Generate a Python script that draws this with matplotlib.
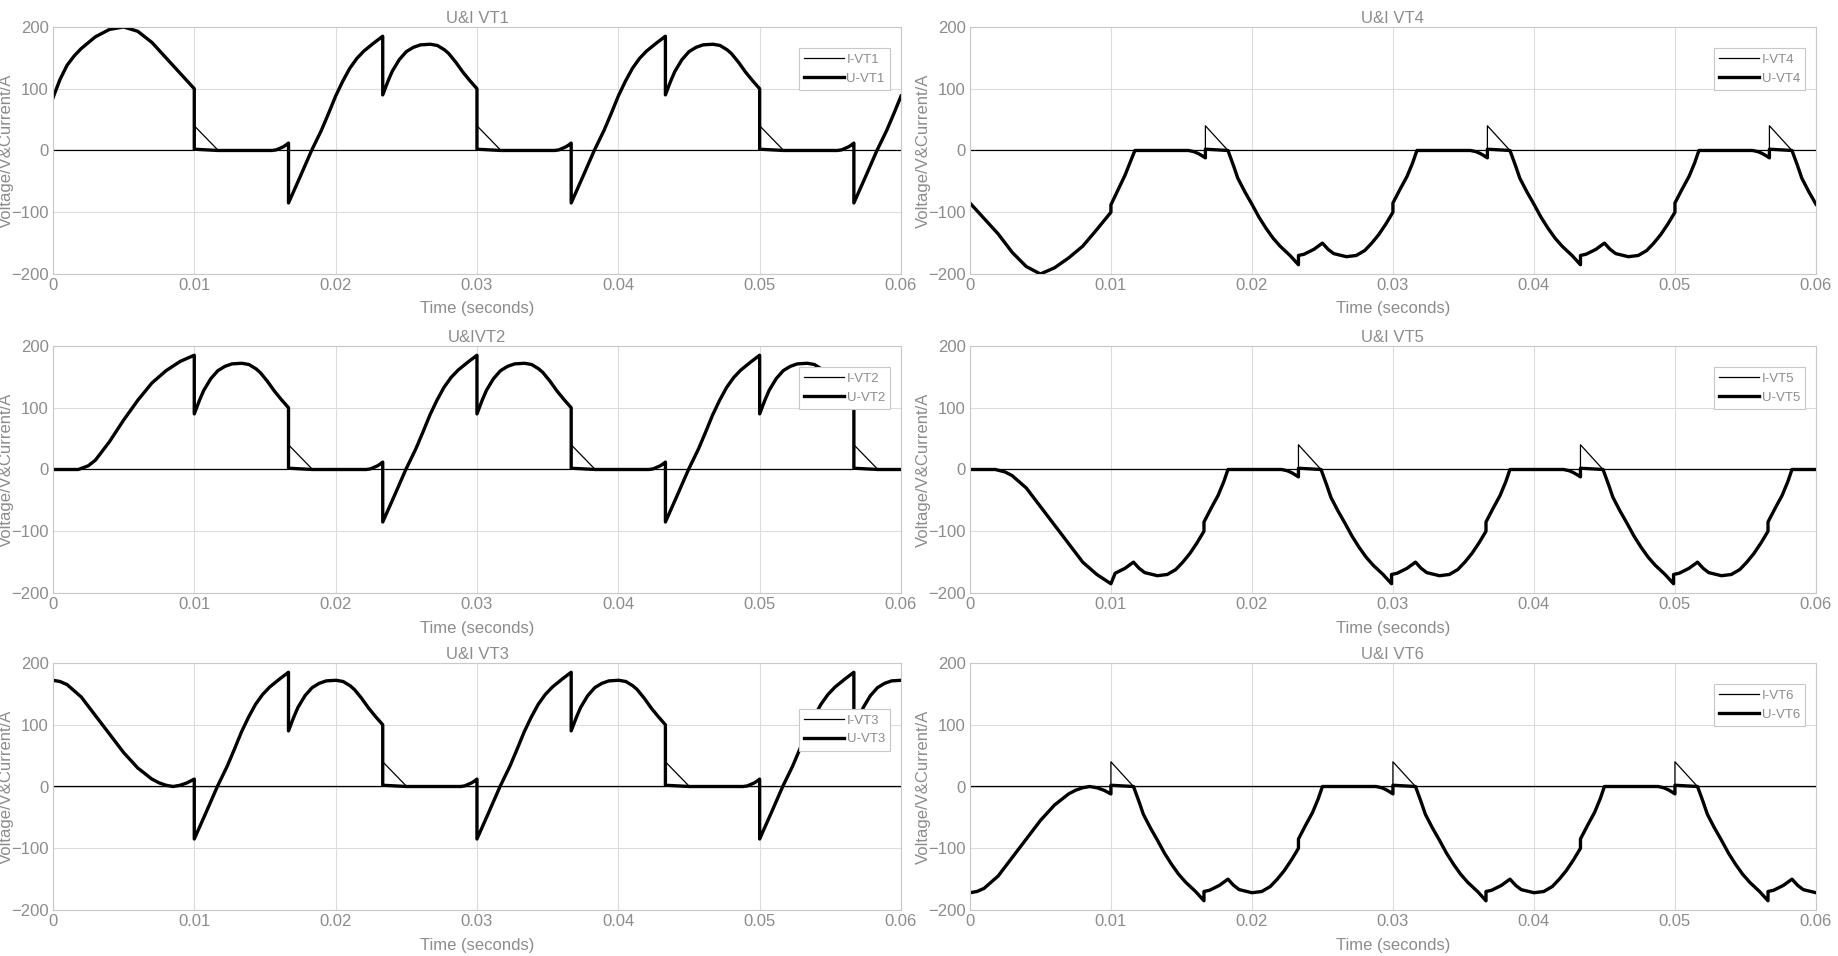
import numpy as np
import matplotlib
matplotlib.use("Agg")
import matplotlib.pyplot as plt

plt.rcParams['font.family'] = ['Liberation Sans Narrow', 'Liberation Sans', 'DejaVu Sans']

# ---- data ----
T_END = 0.06
PERIOD = 0.02

# type A voltage (VT1/VT2/VT3) over one period, tau relative to period start
A_tau = [0, 0.0017, 0.0055, 0.0058, 0.006, 0.0063, 0.0065, 0.006667, 0.006667, 0.0075, 0.0083,
         0.009, 0.0095, 0.010, 0.0105, 0.011, 0.0115, 0.012, 0.0127, 0.013333, 0.013333, 0.0137,
         0.014, 0.0145, 0.015, 0.0155, 0.016, 0.0167, 0.0172, 0.0177, 0.018, 0.0185, 0.019, 0.0195, 0.020]
A_u = [2, 0, 0, 1, 3, 6, 9, 12, -85, -42, 0,
       33, 60, 88, 112, 133, 149, 161, 174, 185, 90, 112,
       128, 147, 160, 167, 171, 172, 170, 163, 157, 143, 127, 113, 100]
A_i_tau = [0, 0.0017, 0.020]
A_i = [40, 0, 0]

# type B voltage (VT4/VT5/VT6) over one period
B_tau = [0, 0.0038, 0.0042, 0.0045, 0.0048, 0.005, 0.005, 0.0066, 0.007, 0.0073, 0.0078, 0.0083,
         0.0088, 0.0093, 0.0098, 0.0103, 0.011, 0.0116, 0.0116, 0.012, 0.0127, 0.0133, 0.0137,
         0.0141, 0.015, 0.0157, 0.0163, 0.0168, 0.0173, 0.0178, 0.0183, 0.0183, 0.0188, 0.0193, 0.0197, 0.020]
B_u = [0, 0, -2, -5, -9, -12, 2, 0, -25, -45, -67, -87,
       -108, -126, -142, -155, -170, -185, -170, -168, -160, -150, -160,
       -167, -172, -170, -162, -150, -136, -119, -100, -85, -63, -42, -20, 0]
B_i_tau = [0, 0.005, 0.005, 0.0066, 0.020]
B_i = [0, 0, 40, 0, 0]

# initial (start-up) segments per thyristor
VT1_init_t = [0, 0.0005, 0.001, 0.0015, 0.002, 0.003, 0.004, 0.005, 0.006, 0.007, 0.008, 0.009, 0.01]
VT1_init_u = [85, 115, 138, 153, 165, 184, 196, 200, 193, 175, 150, 125, 100]
VT2_init_t = [0, 0.0018, 0.0025, 0.003, 0.004, 0.005, 0.006, 0.007, 0.008, 0.009, 0.01]
VT2_init_u = [0, 0, 6, 15, 45, 80, 112, 140, 160, 175, 185]
VT3_init_t = [0, 0.0005, 0.001, 0.002, 0.003, 0.004, 0.005, 0.006, 0.007, 0.0075, 0.008, 0.0085, 0.009, 0.0095, 0.01]
VT3_init_u = [172, 170, 165, 145, 115, 85, 55, 30, 12, 6, 2, 0, 2, 6, 12]
VT4_init_t = [0, 0.001, 0.002, 0.003, 0.004, 0.005, 0.006, 0.007, 0.008, 0.009, 0.01, 0.01, 0.011, 0.0117]
VT4_init_u = [-85, -110, -135, -165, -188, -200, -190, -174, -155, -128, -100, -88, -40, 0]
VT5_init_t = [0, 0.0018, 0.0025, 0.003, 0.004, 0.005, 0.006, 0.007, 0.008, 0.009, 0.01]
VT5_init_u = [0, 0, -4, -10, -30, -60, -90, -120, -150, -170, -185]
VT6_init_t = [0, 0.0005, 0.001, 0.002, 0.003, 0.004, 0.005, 0.006, 0.007, 0.0075, 0.008, 0.0085, 0.009, 0.0095, 0.01]
VT6_init_u = [-172, -170, -165, -145, -115, -85, -55, -30, -12, -6, -2, 0, -2, -6, -12]

names = ['VT1', 'VT4', 'VT2', 'VT5', 'VT3', 'VT6']
titles = ['U&I VT1', 'U&I VT4', 'U&IVT2', 'U&I VT5', 'U&I VT3', 'U&I VT6']
kinds = ['A', 'B', 'A', 'B', 'A', 'B']
starts = [0.01, 0.0117, 0.016667, 0.0183, 0.003333, 0.005]
inits = [(VT1_init_t, VT1_init_u), (VT4_init_t, VT4_init_u), (VT2_init_t, VT2_init_u),
         (VT5_init_t, VT5_init_u), (VT3_init_t, VT3_init_u), (VT6_init_t, VT6_init_u)]


def tile(tau, vals, start, t_from):
    ts, vs = [], []
    k0 = int(np.floor((t_from - start) / PERIOD)) - 1
    for k in range(k0, k0 + 6):
        base = start + k * PERIOD
        for a, v in zip(tau, vals):
            ts.append(base + a)
            vs.append(v)
    ts = np.array(ts); vs = np.array(vs)
    m = (ts >= t_from - 1e-5) & (ts <= T_END)
    out_t = list(np.maximum(ts[m], t_from)); out_v = list(vs[m])
    if out_t[-1] < T_END:
        out_t.append(T_END); out_v.append(np.interp(T_END, ts, vs))
    return out_t, out_v


fig = plt.figure(figsize=(18.38, 9.56), dpi=100)
lefts = [0.0288, 0.5277]
bottoms = [0.7134, 0.3797, 0.0481]
W = [0.4614, 0.4603]
H = 0.2584
grey = '#8c8c8c'

for idx, name in enumerate(names):
    r, c = idx // 2, idx % 2
    ax = fig.add_axes([lefts[c], bottoms[r], W[c], H])
    it, iu = inits[idx]
    if kinds[idx] == 'A':
        tau, uu, itau, ii = A_tau, A_u, A_i_tau, A_i
    else:
        tau, uu, itau, ii = B_tau, B_u, B_i_tau, B_i
    pt, pu = tile(tau, uu, starts[idx], it[-1])
    ut = list(it) + pt
    uv = list(iu) + pu
    ct, cv = tile(itau, ii, starts[idx], it[-1])
    ct = [0, it[-1]] + ct
    cv = [0, 0] + cv
    ax.plot(ct, cv, color='black', lw=0.9, label='I-' + name)
    ax.plot(ut, uv, color='black', lw=2.4, label='U-' + name, solid_joinstyle='round')
    ax.set_xlim(0, 0.06)
    ax.set_ylim(-200, 200)
    ax.set_xticks([0, 0.01, 0.02, 0.03, 0.04, 0.05, 0.06])
    ax.set_xticklabels(['0', '0.01', '0.02', '0.03', '0.04', '0.05', '0.06'])
    ax.set_yticks([-200, -100, 0, 100, 200])
    ax.grid(True, color='#dcdcdc', lw=0.8)
    ax.set_axisbelow(True)
    for s in ax.spines.values():
        s.set_color('#c8c8c8')
    ax.tick_params(colors=grey, labelsize=12, length=0, pad=3)
    ax.set_title(titles[idx], color=grey, fontsize=12, pad=3)
    ax.set_xlabel('Time (seconds)', color=grey, fontsize=12, labelpad=6)
    ax.set_ylabel('Voltage/V&Current/A', color=grey, fontsize=12, labelpad=-2)
    anchor = (0.995, 0.94) if idx != 4 else (0.995, 0.84)
    leg = ax.legend(loc='upper right', bbox_to_anchor=anchor, fontsize=9.5, frameon=True, fancybox=False,
                    handlelength=3, borderpad=0.4, labelspacing=0.5, handletextpad=0.2)
    leg.get_frame().set_edgecolor('#c8c8c8')
    leg.get_frame().set_linewidth(0.8)
    leg.get_frame().set_alpha(1)
    for txt in leg.get_texts():
        txt.set_color(grey)

fig.savefig('out.png', dpi=100)
